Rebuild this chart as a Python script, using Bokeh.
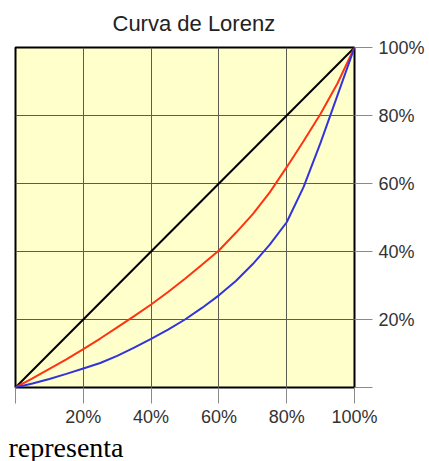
from bokeh.plotting import figure
from bokeh.models import Range1d, LinearAxis, FixedTicker, Title
from bokeh.embed import file_html
from bokeh.resources import INLINE

# Data (percent of population vs percent of income)
pop = [0, 5, 10, 15, 20, 25, 30, 35, 40, 45, 50, 55, 60, 65, 70, 75, 80, 85, 90, 95, 100]
red_curve = [0, 2.7, 5.5, 8.3, 11.3, 14.4, 17.7, 21, 24.4, 28.1, 32, 36.1, 40.3,
             45.5, 51, 57.4, 64.8, 72.5, 80.5, 89.5, 100]
blue_curve = [0, 1.2, 2.5, 4, 5.6, 7.2, 9.3, 11.7, 14.3, 17, 20, 23.4, 27.1,
              31.3, 36.3, 42, 48.6, 59, 72, 86, 100]
equality = [0, 100]
ticks = [0, 20, 40, 60, 80, 100]
tick_labels = {0: "", 20: "20%", 40: "40%", 60: "60%", 80: "80%", 100: "100%"}
title_text = "Curva de Lorenz"
caption_text = "representa"

p = figure(frame_width=339, frame_height=340,
           x_range=Range1d(0, 100), y_range=Range1d(0, 100),
           output_backend="svg", toolbar_location=None,
           min_border_left=15, min_border_top=47, min_border_right=67, min_border_bottom=74,
           x_axis_location=None, y_axis_location=None)

p.background_fill_color = "#FFFFCC"
p.border_fill_color = "white"
p.outline_line_color = "black"
p.outline_line_width = 2

# title
p.title.text = title_text
p.title.align = "left"
p.title.offset = 97
p.title.standoff = 20
p.title.vertical_align = "top"
p.title.text_font = "Liberation Sans"
p.title.text_font_size = "22px"
p.title.text_font_style = "normal"
p.title.text_color = "#222222"

# axes
xaxis = LinearAxis(ticker=FixedTicker(ticks=ticks))
yaxis = LinearAxis(ticker=FixedTicker(ticks=ticks))
for ax in (xaxis, yaxis):
    ax.major_label_overrides = tick_labels
    ax.axis_line_color = None
    ax.minor_tick_line_color = None
    ax.major_tick_in = 0
    ax.major_tick_line_color = "#8a8a8a"
    ax.major_tick_line_width = 1
    ax.major_label_text_font = "Liberation Sans"
    ax.major_label_text_font_size = "18px"
    ax.major_label_text_color = "#333333"
xaxis.major_tick_out = 16
xaxis.major_label_standoff = 3
yaxis.major_tick_out = 18
yaxis.major_label_standoff = 6
p.add_layout(xaxis, "below")
p.add_layout(yaxis, "right")

# caption below the chart
caption = Title(text=caption_text, align="left", offset=-7, standoff=0,
                vertical_align="bottom", text_font="Liberation Serif",
                text_font_size="28px", text_font_style="normal", text_color="black")
p.add_layout(caption, "below")

# grid
p.xgrid.ticker = FixedTicker(ticks=ticks)
p.ygrid.ticker = FixedTicker(ticks=ticks)
for g in (p.xgrid, p.ygrid):
    g.grid_line_color = "#5c5c50"
    g.grid_line_width = 1
    g.grid_line_alpha = 1

# curves
p.line(equality, equality, line_color="black", line_width=2)
p.line(pop, red_curve, line_color="#FF3311", line_width=2)
p.line(pop, blue_curve, line_color="#3333DD", line_width=2)

open("out.html", "w").write(file_html(p, INLINE))
